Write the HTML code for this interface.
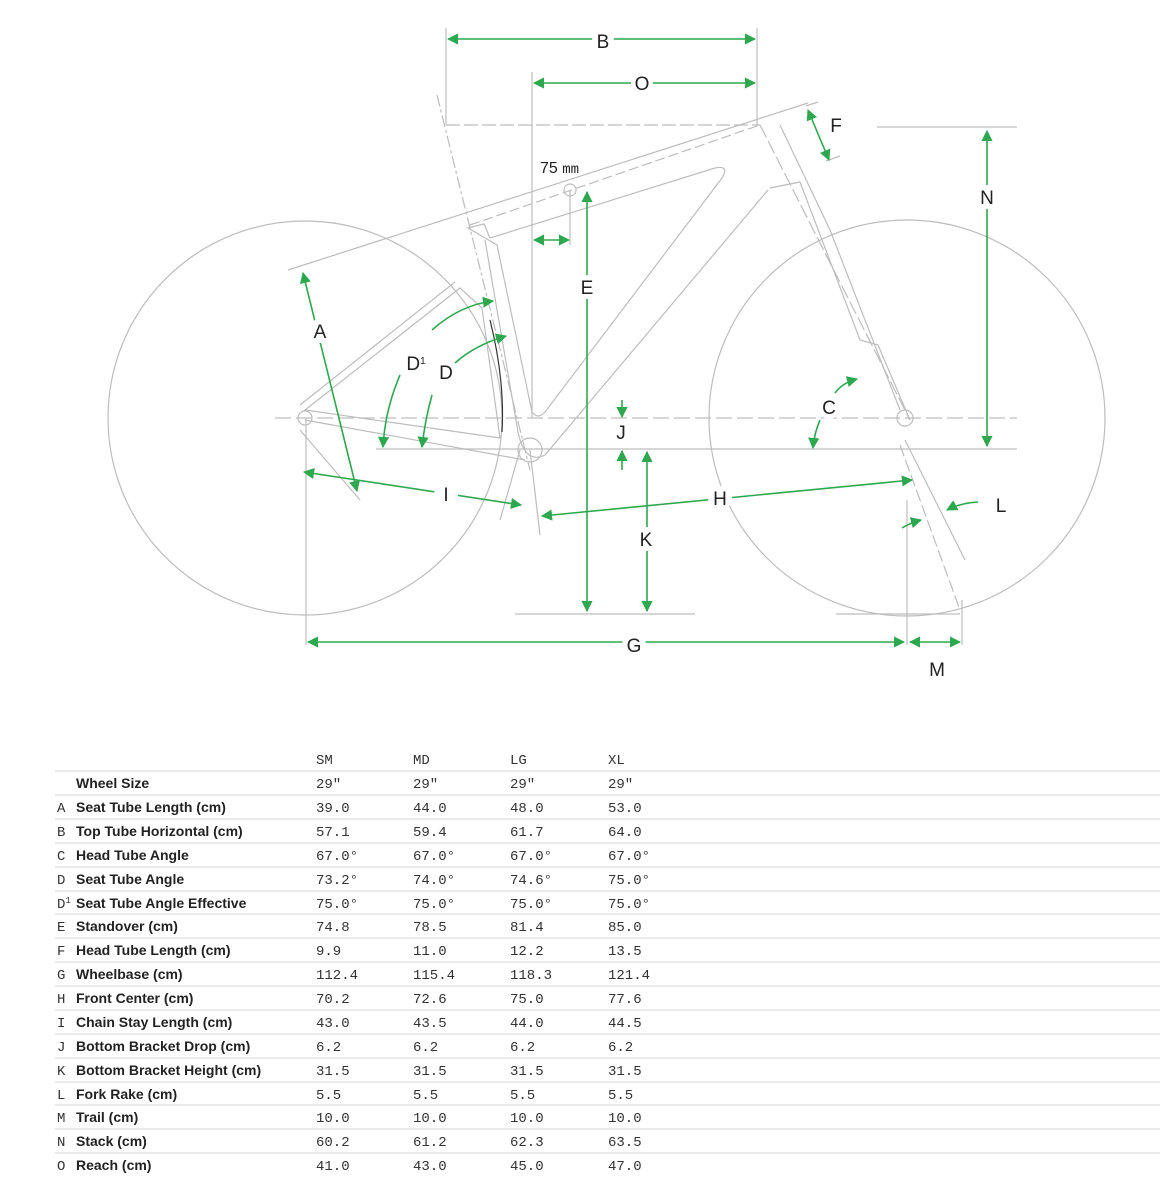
<!DOCTYPE html>
<html><head><meta charset="utf-8"><style>
html,body{margin:0;padding:0;background:#fff;width:1165px;height:1197px;overflow:hidden}
svg{position:absolute;left:0;top:0}
.t{font-family:"Liberation Sans",sans-serif;font-weight:bold;font-size:14px;fill:#222}
.m{font-family:"Liberation Mono",monospace;font-size:14px;fill:#333}
.lb{font-family:"Liberation Sans",sans-serif;font-size:19px;fill:#222;text-anchor:middle}
</style></head><body>
<svg width="1165" height="1197" viewBox="0 0 1165 1197">
<defs>
<marker id="a" viewBox="0 0 10 10" refX="9" refY="5" markerWidth="7" markerHeight="7" orient="auto-start-reverse"><path d="M0,0L10,5L0,10z" fill="#2ea84f"/></marker>
</defs>
<g fill="none" stroke="#bdbdbd" stroke-width="1.2">
<circle cx="305" cy="418" r="197"/>
<circle cx="907" cy="418" r="198"/>
<line x1="446" y1="28" x2="446" y2="125"/>
<line x1="757" y1="28" x2="757" y2="125"/>
<line x1="532" y1="72" x2="532" y2="418"/>
<line x1="446" y1="125" x2="760" y2="125" stroke-dasharray="14 4"/>
<line x1="877" y1="127" x2="1017" y2="127"/>
<line x1="376" y1="449" x2="1017" y2="449"/>
<line x1="275" y1="418" x2="1017" y2="418" stroke-dasharray="16 5"/>
<line x1="515" y1="614" x2="695" y2="614"/>
<line x1="836" y1="614" x2="960" y2="614"/>
<line x1="306" y1="418" x2="306" y2="645"/>
<line x1="907" y1="500" x2="907" y2="645"/>
<line x1="962" y1="600" x2="962" y2="645"/>
<line x1="288" y1="270" x2="808" y2="103"/>
<line x1="437" y1="95" x2="530" y2="470" stroke-dasharray="12 3 3 3"/>
<line x1="470" y1="225" x2="760" y2="125" stroke-dasharray="10 4"/>
<path d="M468 228 L484 224 L490 238 L715 168 Q730 165 722 178 L545 412 Q538 420 532 412 L497 245 Z"/>
<path d="M485 240 L518 432 Q525 465 545 455 L768 190"/>
<path d="M460 288 L305 410 L500 438 L482 308 Z"/>
<path d="M455 282 L300 405"/>
<path d="M305 420 L525 460"/>
<path d="M300 430 L360 500"/>
<circle cx="305" cy="418" r="7"/>
<circle cx="530" cy="450" r="12"/>
<line x1="530" y1="450" x2="540" y2="535"/>
<line x1="520" y1="450" x2="500" y2="520"/>
<line x1="760" y1="125" x2="910" y2="420" stroke-dasharray="14 4"/>
<path d="M780 125 L830 230 L900 410"/>
<path d="M770 188 L800 182 L860 340 L878 345 L910 420"/>
<line x1="905" y1="440" x2="965" y2="560"/>
<line x1="900" y1="445" x2="960" y2="610" stroke-dasharray="12 4"/>
<line x1="806" y1="106" x2="818" y2="102"/>
<line x1="826" y1="161" x2="840" y2="156"/>
<circle cx="570" cy="190" r="6"/>
<line x1="570" y1="190" x2="570" y2="245"/>
<circle cx="905" cy="418" r="8"/>
<path d="M490 320 Q505 380 502 432" stroke="#333"/>
</g>
<g fill="none" stroke="#2ea84f" stroke-width="1.6" marker-start="url(#a)" marker-end="url(#a)">
<line x1="448" y1="39" x2="755" y2="39"/>
<line x1="534" y1="83" x2="755" y2="83"/>
<line x1="987" y1="131" x2="987" y2="446"/>
<line x1="808" y1="110" x2="829" y2="160"/>
<line x1="587" y1="192" x2="587" y2="611"/>
<line x1="534" y1="240" x2="569" y2="240"/>
<line x1="647" y1="452" x2="647" y2="611"/>
<line x1="308" y1="642" x2="904" y2="642"/>
<line x1="910" y1="642" x2="960" y2="642"/>
<line x1="542" y1="516" x2="912" y2="480"/>
<line x1="304" y1="472" x2="521" y2="505"/>
<line x1="303" y1="273" x2="357" y2="491"/>
</g>
<g fill="none" stroke="#2ea84f" stroke-width="1.6" marker-end="url(#a)">
<line x1="622" y1="400" x2="622" y2="417"/>
<line x1="622" y1="470" x2="622" y2="451"/>
<path d="M978 502 Q960 503 947 510"/>
<path d="M902 528 Q910 523 921 520"/>
<path d="M835 393 Q842 383 857 379"/>
<path d="M820 420 Q814 434 813 448"/>
<path d="M400 375 Q385 410 383 447"/>
<path d="M432 395 Q425 420 422 447"/>
<path d="M432 330 Q460 305 493 301"/>
<path d="M455 363 Q475 345 506 336"/>
</g>
<g fill="#fff">
<circle cx="603" cy="41" r="11"/><circle cx="642" cy="83" r="11"/><circle cx="836" cy="125" r="12"/>
<circle cx="987" cy="197" r="12"/><circle cx="587" cy="287" r="12"/><circle cx="320" cy="331" r="12"/>
<circle cx="416" cy="363" r="13"/><circle cx="446" cy="372" r="12"/><circle cx="829" cy="407" r="12"/>
<circle cx="621" cy="432" r="12"/><circle cx="446" cy="494" r="12"/><circle cx="720" cy="498" r="12"/>
<circle cx="646" cy="539" r="12"/><circle cx="1001" cy="505" r="13"/><circle cx="634" cy="645" r="12"/>
<circle cx="937" cy="669" r="12"/>
</g>
<g class="lb">
<text x="603" y="48">B</text><text x="642" y="90">O</text><text x="836" y="132">F</text>
<text x="987" y="204">N</text><text x="587" y="294">E</text><text x="320" y="338">A</text>
<text x="416" y="370">D<tspan font-size="10" dy="-6">1</tspan></text><text x="446" y="379">D</text><text x="829" y="414">C</text>
<text x="621" y="439">J</text><text x="446" y="501">I</text><text x="720" y="505">H</text>
<text x="646" y="546">K</text><text x="1001" y="512">L</text><text x="634" y="652">G</text>
<text x="937" y="676">M</text>
</g>
<text x="540" y="173" style="font-family:'Liberation Sans',sans-serif;font-size:16px;fill:#222">75 <tspan font-family="Liberation Mono" font-size="14">mm</tspan></text>

<g stroke="#d6d6d6" stroke-width="1">
<line x1="55" y1="771" x2="1160" y2="771"/><line x1="55" y1="795" x2="1160" y2="795"/>
<line x1="55" y1="819" x2="1160" y2="819"/><line x1="55" y1="843" x2="1160" y2="843"/>
<line x1="55" y1="867" x2="1160" y2="867"/><line x1="55" y1="891" x2="1160" y2="891"/>
<line x1="55" y1="914" x2="1160" y2="914"/><line x1="55" y1="938" x2="1160" y2="938"/>
<line x1="55" y1="962" x2="1160" y2="962"/><line x1="55" y1="986" x2="1160" y2="986"/>
<line x1="55" y1="1010" x2="1160" y2="1010"/><line x1="55" y1="1034" x2="1160" y2="1034"/>
<line x1="55" y1="1058" x2="1160" y2="1058"/><line x1="55" y1="1082" x2="1160" y2="1082"/>
<line x1="55" y1="1105" x2="1160" y2="1105"/><line x1="55" y1="1129" x2="1160" y2="1129"/>
<line x1="55" y1="1153" x2="1160" y2="1153"/>
</g>
<g class="m"><text x="316" y="764">SM</text><text x="413" y="764">MD</text><text x="510" y="764">LG</text><text x="608" y="764">XL</text></g>
<g id="rows"></g>
<g>
<text class="t" x="76" y="788">Wheel Size</text><text class="m" x="316" y="788">29"</text><text class="m" x="413" y="788">29"</text><text class="m" x="510" y="788">29"</text><text class="m" x="608" y="788">29"</text>
<text class="m" x="57" y="812">A</text><text class="t" x="76" y="812">Seat Tube Length (cm)</text><text class="m" x="316" y="812">39.0</text><text class="m" x="413" y="812">44.0</text><text class="m" x="510" y="812">48.0</text><text class="m" x="608" y="812">53.0</text>
<text class="m" x="57" y="836">B</text><text class="t" x="76" y="836">Top Tube Horizontal (cm)</text><text class="m" x="316" y="836">57.1</text><text class="m" x="413" y="836">59.4</text><text class="m" x="510" y="836">61.7</text><text class="m" x="608" y="836">64.0</text>
<text class="m" x="57" y="860">C</text><text class="t" x="76" y="860">Head Tube Angle</text><text class="m" x="316" y="860">67.0°</text><text class="m" x="413" y="860">67.0°</text><text class="m" x="510" y="860">67.0°</text><text class="m" x="608" y="860">67.0°</text>
<text class="m" x="57" y="884">D</text><text class="t" x="76" y="884">Seat Tube Angle</text><text class="m" x="316" y="884">73.2°</text><text class="m" x="413" y="884">74.0°</text><text class="m" x="510" y="884">74.6°</text><text class="m" x="608" y="884">75.0°</text>
<text class="m" x="57" y="908">D<tspan font-size="9" dy="-5">1</tspan></text><text class="t" x="76" y="908">Seat Tube Angle Effective</text><text class="m" x="316" y="908">75.0°</text><text class="m" x="413" y="908">75.0°</text><text class="m" x="510" y="908">75.0°</text><text class="m" x="608" y="908">75.0°</text>
<text class="m" x="57" y="931">E</text><text class="t" x="76" y="931">Standover (cm)</text><text class="m" x="316" y="931">74.8</text><text class="m" x="413" y="931">78.5</text><text class="m" x="510" y="931">81.4</text><text class="m" x="608" y="931">85.0</text>
<text class="m" x="57" y="955">F</text><text class="t" x="76" y="955">Head Tube Length (cm)</text><text class="m" x="316" y="955">9.9</text><text class="m" x="413" y="955">11.0</text><text class="m" x="510" y="955">12.2</text><text class="m" x="608" y="955">13.5</text>
<text class="m" x="57" y="979">G</text><text class="t" x="76" y="979">Wheelbase (cm)</text><text class="m" x="316" y="979">112.4</text><text class="m" x="413" y="979">115.4</text><text class="m" x="510" y="979">118.3</text><text class="m" x="608" y="979">121.4</text>
<text class="m" x="57" y="1003">H</text><text class="t" x="76" y="1003">Front Center (cm)</text><text class="m" x="316" y="1003">70.2</text><text class="m" x="413" y="1003">72.6</text><text class="m" x="510" y="1003">75.0</text><text class="m" x="608" y="1003">77.6</text>
<text class="m" x="57" y="1027">I</text><text class="t" x="76" y="1027">Chain Stay Length (cm)</text><text class="m" x="316" y="1027">43.0</text><text class="m" x="413" y="1027">43.5</text><text class="m" x="510" y="1027">44.0</text><text class="m" x="608" y="1027">44.5</text>
<text class="m" x="57" y="1051">J</text><text class="t" x="76" y="1051">Bottom Bracket Drop (cm)</text><text class="m" x="316" y="1051">6.2</text><text class="m" x="413" y="1051">6.2</text><text class="m" x="510" y="1051">6.2</text><text class="m" x="608" y="1051">6.2</text>
<text class="m" x="57" y="1075">K</text><text class="t" x="76" y="1075">Bottom Bracket Height (cm)</text><text class="m" x="316" y="1075">31.5</text><text class="m" x="413" y="1075">31.5</text><text class="m" x="510" y="1075">31.5</text><text class="m" x="608" y="1075">31.5</text>
<text class="m" x="57" y="1099">L</text><text class="t" x="76" y="1099">Fork Rake (cm)</text><text class="m" x="316" y="1099">5.5</text><text class="m" x="413" y="1099">5.5</text><text class="m" x="510" y="1099">5.5</text><text class="m" x="608" y="1099">5.5</text>
<text class="m" x="57" y="1122">M</text><text class="t" x="76" y="1122">Trail (cm)</text><text class="m" x="316" y="1122">10.0</text><text class="m" x="413" y="1122">10.0</text><text class="m" x="510" y="1122">10.0</text><text class="m" x="608" y="1122">10.0</text>
<text class="m" x="57" y="1146">N</text><text class="t" x="76" y="1146">Stack (cm)</text><text class="m" x="316" y="1146">60.2</text><text class="m" x="413" y="1146">61.2</text><text class="m" x="510" y="1146">62.3</text><text class="m" x="608" y="1146">63.5</text>
<text class="m" x="57" y="1170">O</text><text class="t" x="76" y="1170">Reach (cm)</text><text class="m" x="316" y="1170">41.0</text><text class="m" x="413" y="1170">43.0</text><text class="m" x="510" y="1170">45.0</text><text class="m" x="608" y="1170">47.0</text>
</g>
</svg>
</body></html>
